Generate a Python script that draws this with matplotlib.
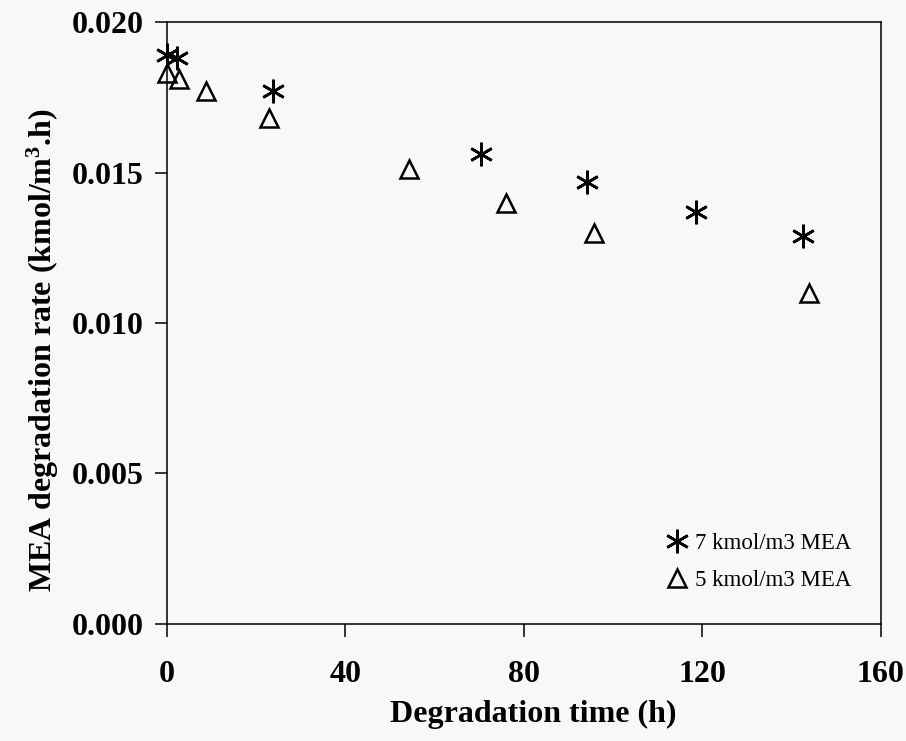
import numpy as np
import matplotlib
matplotlib.use("Agg")
import matplotlib.pyplot as plt
from matplotlib.ticker import FormatStrFormatter

# degradation rate vs time, two initial MEA concentrations
t_7 = [0, 2.2, 23.8, 70.4, 94.1, 118.5, 142.5]
rate_7 = [0.0189, 0.0188, 0.0177, 0.0156, 0.0147, 0.0137, 0.0129]

t_5 = [0, 2.8, 8.7, 22.9, 54.2, 76.0, 95.7, 143.9]
rate_5 = [0.0183, 0.0181, 0.0177, 0.0168, 0.0151, 0.0140, 0.0130, 0.0110]

x_ticks = [0, 40, 80, 120, 160]
y_ticks = [0.000, 0.005, 0.010, 0.015, 0.020]

plt.rcParams['font.family'] = ['Liberation Serif', 'DejaVu Serif']
plt.rcParams['mathtext.fontset'] = 'custom'
plt.rcParams['mathtext.bf'] = 'Liberation Serif:bold'
plt.rcParams['mathtext.rm'] = 'Liberation Serif'

bg = '#f8f8f7'
fig = plt.figure(figsize=(9.06, 7.41), dpi=100, facecolor=bg)
ax = fig.add_axes([0.1843, 0.1579, 0.788, 0.8124], facecolor=bg)

ax.plot(t_7, rate_7, linestyle='none', marker=(6, 2, 0), markersize=17,
        markeredgewidth=1.9, color='black', label='7 kmol/m3 MEA',
        clip_on=False)
ax.plot(t_5, rate_5, linestyle='none', marker='^', markersize=13,
        markeredgewidth=1.8, markerfacecolor='none', markeredgecolor='black',
        label='5 kmol/m3 MEA', clip_on=False)

ax.set_xlim(0, 160)
ax.set_ylim(0, 0.020)
ax.set_xticks(x_ticks)
ax.set_yticks(y_ticks)
ax.yaxis.set_major_formatter(FormatStrFormatter('%.3f'))

for s in ax.spines.values():
    s.set_linewidth(1.1)
ax.tick_params(axis='both', direction='out', length=9, width=1.1,
               labelsize=23)
ax.tick_params(axis='x', pad=17)
ax.tick_params(axis='y', pad=8)
for lab in ax.get_xticklabels() + ax.get_yticklabels():
    lab.set_fontweight('bold')

ax.set_xlabel('Degradation time (h)', fontsize=23, fontweight='bold')
ax.set_ylabel(r'MEA degradation rate (kmol/m$\mathbf{^{3}}$.h)', fontsize=23,
              fontweight='bold')
ax.xaxis.set_label_coords(0.513, -0.126)
ax.yaxis.set_label_coords(-0.149, 0.455)

leg = ax.legend(loc='upper left', bbox_to_anchor=(0.699, 0.151),
                frameon=False, fontsize=16.5, borderpad=0, borderaxespad=0,
                handlelength=1, handletextpad=0.25, labelspacing=0.7)

fig.savefig('out.png', dpi=100, facecolor=bg)
